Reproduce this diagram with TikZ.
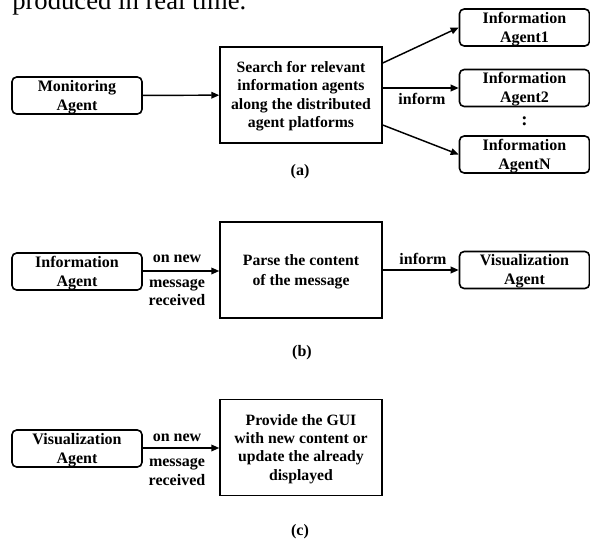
\documentclass[tikz,border=0pt]{standalone}
\usepackage{fontspec}
\setmainfont{Liberation Serif}
\usetikzlibrary{arrows.meta}
\newcommand\agentfont{\bfseries\fontsize{12}{14.2}\selectfont}
\newcommand\taskfont{\bfseries\fontsize{11.8}{13.8}\selectfont}
\newcommand\lblfont{\bfseries\fontsize{12}{14.2}\selectfont}
\begin{document}
\begin{tikzpicture}[x=0.75pt,y=-0.75pt,
  agent/.style={draw, line width=1.2pt, rounded corners=3.5pt, minimum width=97.5pt, minimum height=27.75pt, inner sep=0pt},
  atxt/.style={inner sep=0pt, align=center, font=\agentfont},
  task/.style={draw, line width=1.1pt, minimum width=121.5pt, minimum height=72pt, inner sep=0pt},
  txt/.style={inner sep=0pt, align=center, font=\taskfont},
  lbl/.style={inner sep=0pt, align=center, font=\lblfont},
  conn/.style={line width=1.1pt, -{Triangle[length=6pt,width=5pt]}}]
\useasboundingbox (0,0) rectangle (590,540);
\clip (0,0) rectangle (590,540);
% fragment of text above
\node[anchor=base west, inner sep=0pt, font=\fontsize{20}{24}\selectfont] (top) at (12,9) {produced in real time.};
% (a)
\node[agent] (mon) at (77,95.5) {};
\node[atxt] (mont) at (77,97) {Monitoring\\Agent};
\node[task] (search) at (301,95) {};
\node[txt] (searcht) at (301,96) {Search for relevant\\information agents\\along the distributed\\agent platforms};
\node[agent] (ia1) at (524.5,27.5) {};
\node[atxt] (ia1t) at (524.5,29) {Information\\Agent1};
\node[agent] (ia2) at (524.5,88) {};
\node[atxt] (ia2t) at (524.5,89.5) {Information\\Agent2};
\node[agent] (ian) at (524.5,154.5) {};
\node[atxt] (iant) at (524.5,156) {Information\\AgentN};
\node[inner sep=0pt, font=\bfseries\fontsize{14}{14}\selectfont] (dots) at (524.5,121) {:};
\draw[conn] (mon) -- (search);
\draw[conn] (search.east |- 0,63) -- (ia1.west);
\draw[conn] (search.east |- 0,88) -- (ia2.west);
\draw[conn] (search.east |- 0,125) -- (ian.west);
\node[lbl] (inf1) at (422,99) {inform};
\node[lbl] (capa) at (300,172) {(a)};
% (b)
\node[agent] (ib) at (77,271.5) {};
\node[atxt] (ibt) at (77,273) {Information\\Agent};
\node[task] (parse) at (301,270) {};
\node[txt, font=\bfseries\fontsize{11.8}{15}\selectfont] (parset) at (301,272) {Parse the content\\of the message};
\node[agent] (vb) at (524.5,270) {};
\node[atxt] (vbt) at (524.5,271.5) {Visualization\\Agent};
\draw[conn] (ib.east |- 0,271) -- (parse.west |- 0,271);
\draw[conn] (parse.east |- 0,270) -- (vb.west |- 0,270);
\node[lbl] (onb) at (177,259) {on new};
\node[lbl] (msgb) at (177,292.5) {message\\received};
\node[lbl] (inf2) at (423,259) {inform};
\node[lbl] (capb) at (302,353) {(b)};
% (c)
\node[agent] (vc) at (77,448.5) {};
\node[atxt] (vct) at (77,450) {Visualization\\Agent};
\node[task] (prov) at (301,447.5) {};
\node[txt] (provt) at (301,449) {Provide the GUI\\with new content or\\update the already\\displayed};
\draw[conn] (vc.east |- 0,448) -- (prov.west |- 0,448);
\node[lbl] (onc) at (177,438) {on new};
\node[lbl] (msgc) at (177,471.5) {message\\received};
\node[lbl] (capc) at (300,532) {(c)};
\end{tikzpicture}
\end{document}
